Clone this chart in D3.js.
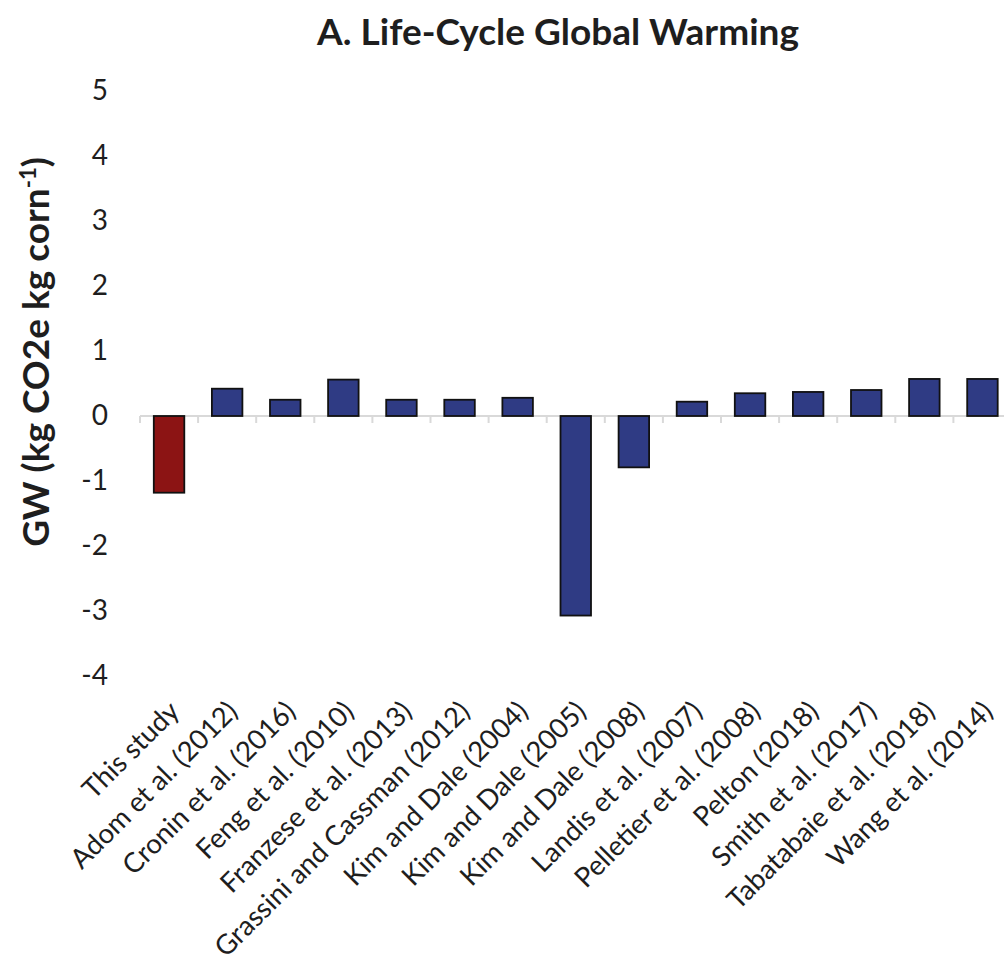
<!DOCTYPE html>
<html>
<head>
<meta charset="utf-8">
<script src="https://cdn.jsdelivr.net/npm/d3@7"></script>
<style>
  body { margin: 0; background: #fff; }
  text { font-family: Lato, "Open Sans", sans-serif; fill: #1e1e1e; }
</style>
</head>
<body>
<svg id="chart" width="1004" height="967"></svg>
<script>
// Life-cycle global warming of corn, by study (kg CO2e per kg corn)
const studies = [
  "This study",
  "Adom et al. (2012)",
  "Cronin et al. (2016)",
  "Feng et al. (2010)",
  "Franzese et al. (2013)",
  "Grassini and Cassman (2012)",
  "Kim and Dale (2004)",
  "Kim and Dale (2005)",
  "Kim and Dale (2008)",
  "Landis et al. (2007)",
  "Pelletier et al. (2008)",
  "Pelton (2018)",
  "Smith et al. (2017)",
  "Tabatabaie et al. (2018)",
  "Wang et al. (2014)"
];
const gwValues = [-1.18, 0.42, 0.25, 0.56, 0.25, 0.25, 0.28, -3.07, -0.79, 0.22, 0.35, 0.37, 0.40, 0.57, 0.57];
const yTicks = [5, 4, 3, 2, 1, 0, -1, -2, -3, -4];
const highlighted = ["This study"];

const svg = d3.select("#chart");

const step = 58.1;
const x0 = 140;
const x = d3.scaleBand()
  .domain(studies)
  .range([x0, x0 + step * studies.length])
  .paddingInner(0.475)
  .paddingOuter(0.2375);

const y = d3.scaleLinear()
  .domain([-4, 5])
  .range([676, 91]);

const fillFor = d => highlighted.includes(d) ? "#8c1414" : "#2f3b84";

// Title
svg.append("text")
  .attr("x", 558)
  .attr("y", 45)
  .attr("text-anchor", "middle")
  .style("font-size", "37px")
  .style("font-weight", "bold")
  .text("A. Life-Cycle Global Warming");

// Value axis (labels only)
const yAxis = svg.append("g")
  .attr("transform", "translate(114,0)")
  .call(d3.axisLeft(y).tickValues(yTicks).tickSize(0).tickPadding(6).tickFormat(d => String(d)));
yAxis.select(".domain").remove();
yAxis.selectAll("text")
  .style("font-size", "28px")
  .style("font-family", "Lato, 'Open Sans', sans-serif")
  .attr("fill", "#1e1e1e");

// Value axis title with superscript
const yTitle = svg.append("text")
  .attr("transform", "translate(49,352) rotate(-90)")
  .attr("text-anchor", "middle")
  .style("font-size", "37px")
  .style("font-weight", "bold");
yTitle.append("tspan").text("GW (kg CO2e kg corn");
yTitle.append("tspan").attr("baseline-shift", "super").style("font-size", "22px").text("-1");
yTitle.append("tspan").text(")");

// Zero line with category boundary ticks
const zeroY = y(0);
svg.append("line")
  .attr("x1", x0).attr("x2", x0 + step * studies.length)
  .attr("y1", zeroY).attr("y2", zeroY)
  .attr("stroke", "#d9d9d9").attr("stroke-width", 2);
svg.append("g").selectAll("line")
  .data(d3.range(studies.length + 1))
  .join("line")
  .attr("x1", i => x0 + i * x.step())
  .attr("x2", i => x0 + i * x.step())
  .attr("y1", zeroY).attr("y2", zeroY + 7)
  .attr("stroke", "#d9d9d9").attr("stroke-width", 2);

// Bars
svg.append("g").selectAll("rect")
  .data(studies.map((s, i) => ({ study: s, value: gwValues[i] })))
  .join("rect")
  .attr("x", d => x(d.study))
  .attr("width", x.bandwidth())
  .attr("y", d => y(Math.max(0, d.value)))
  .attr("height", d => Math.abs(y(d.value) - y(0)))
  .attr("fill", d => fillFor(d.study))
  .attr("stroke", "#111")
  .attr("stroke-width", 1.8);

// Category labels, rotated, below the plot
const xAxis = svg.append("g")
  .attr("transform", "translate(0,713)")
  .call(d3.axisBottom(x).tickSize(0).tickPadding(0));
xAxis.select(".domain").remove();
xAxis.selectAll("text")
  .attr("y", 0)
  .attr("dy", 0)
  .attr("text-anchor", "end")
  .attr("transform", "translate(12,0) rotate(-45)")
  .style("font-size", "27.5px")
  .style("font-family", "Lato, 'Open Sans', sans-serif")
  .attr("fill", "#262626");
</script>
</body>
</html>
